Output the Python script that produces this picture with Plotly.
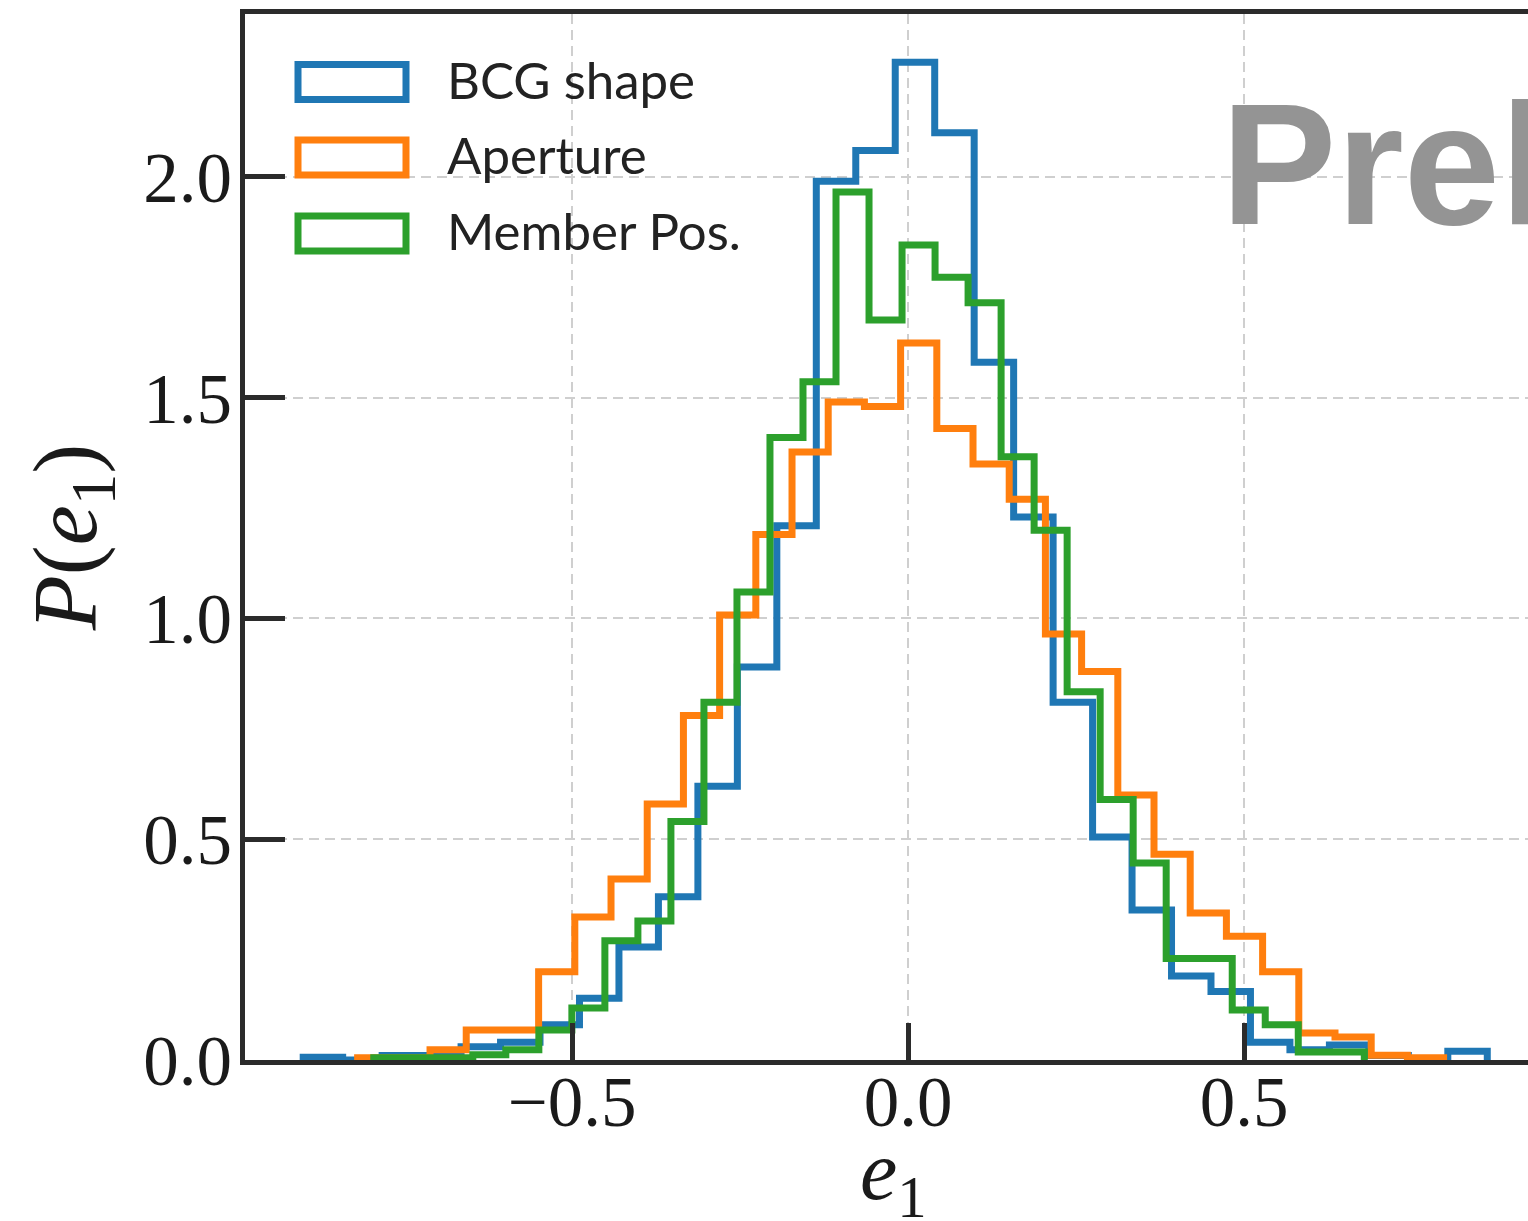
import numpy as np
import plotly.graph_objects as go

# ---- data ----
series_names = ["BCG shape", "Aperture", "Member Pos."]
series_colors = ["#1f77b4", "#ff7f0e", "#2ca02c"]

n_bins = 30
bcg_range = (-0.900, 0.862)
aperture_range = (-0.819, 0.797)
member_range = (-0.795, 0.679)

bcg_density = [0.006, 0.0, 0.010, 0.010, 0.030, 0.040, 0.080, 0.140, 0.256, 0.370,
               0.620, 0.890, 1.210, 1.990, 2.060, 2.260, 2.100, 1.580, 1.230, 0.810,
               0.505, 0.340, 0.190, 0.155, 0.040, 0.023, 0.034, 0.010, 0.0, 0.020]
aperture_density = [0.005, 0.005, 0.023, 0.068, 0.068, 0.200, 0.324, 0.410, 0.580, 0.780,
                    1.008, 1.190, 1.377, 1.490, 1.480, 1.624, 1.430, 1.350, 1.270, 0.965,
                    0.880, 0.600, 0.466, 0.333, 0.280, 0.200, 0.061, 0.052, 0.011, 0.005]
member_density = [0.005, 0.005, 0.005, 0.012, 0.023, 0.068, 0.118, 0.270, 0.315, 0.540,
                  0.810, 1.060, 1.410, 1.536, 1.966, 1.676, 1.846, 1.773, 1.715, 1.366,
                  1.200, 0.834, 0.590, 0.446, 0.230, 0.230, 0.113, 0.080, 0.018, 0.018]

x_ticks = [-0.5, 0.0, 0.5]
x_tick_labels = ["\u22120.5", "0.0", "0.5"]
y_ticks = [0.0, 0.5, 1.0, 1.5, 2.0]
y_tick_labels = ["0.0", "0.5", "1.0", "1.5", "2.0"]
x_title = "<i>e</i><sub>1</sub>"
y_title = "<i>P</i>(<i>e</i><sub>1</sub>)"
watermark = "Preliminary"

ranges = [bcg_range, aperture_range, member_range]
densities = [bcg_density, aperture_density, member_density]

W, H = 1528, 1221
ML, MR, MT, MB = 245, 0, 14, 161
PW, PH = W - ML - MR, H - MT - MB


def px_to_paper_x(px):
    return (px - ML) / PW


def px_to_paper_y(py):
    return (H - MB - py) / PH


fig = go.Figure()
for name, color, rng, dens in zip(series_names, series_colors, ranges, densities):
    edges = np.linspace(rng[0], rng[1], n_bins + 1)
    xs = [edges[0]] + list(edges[:-1]) + [edges[-1]]
    ys = [0.0] + list(dens) + [0.0]
    fig.add_trace(go.Scatter(
        x=xs, y=ys, mode="lines", name=name,
        line=dict(color=color, width=7, shape="hv"),
        showlegend=False, hoverinfo="skip",
    ))

axis_col = "#2b2b2b"
tick_font = dict(family="Liberation Serif", size=71, color="#1a1a1a")

fig.update_layout(
    width=W, height=H,
    margin=dict(l=ML, r=MR, t=MT, b=MB, pad=0),
    paper_bgcolor="white", plot_bgcolor="white",
    xaxis=dict(
        range=[-0.9866, 0.9226], tickmode="array", tickvals=x_ticks, ticktext=x_tick_labels,
        ticks="inside", ticklen=37, tickwidth=4.5, tickcolor=axis_col,
        showline=True, linecolor=axis_col, linewidth=4.5, mirror=True,
        showgrid=True, gridcolor="#cfcfcf", gridwidth=1.5, griddash="10px,6px",
        zeroline=False, tickfont=tick_font, ticklabelstandoff=-24, automargin=False,
    ),
    yaxis=dict(
        range=[0, 2.369], tickmode="array", tickvals=y_ticks, ticktext=y_tick_labels,
        ticks="inside", ticklen=40, tickwidth=4.5, tickcolor=axis_col,
        showline=True, linecolor=axis_col, linewidth=4.5, mirror=False,
        showgrid=True, gridcolor="#cfcfcf", gridwidth=1.5, griddash="10px,6px",
        zeroline=False, tickfont=tick_font, ticklabelstandoff=-6, automargin=False,
        title=dict(text=y_title,
                   font=dict(family="Liberation Serif", size=90, color="#1a1a1a"), standoff=18),
    ),
)

# x-axis title (placed as annotation below tick labels)
fig.add_annotation(
    text=x_title, xref="paper", yref="paper",
    x=px_to_paper_x(893), y=px_to_paper_y(1177), xanchor="center", yanchor="middle",
    showarrow=False, font=dict(family="Liberation Serif", size=84, color="#1a1a1a"),
)

# watermark
fig.add_annotation(
    text="<b>" + watermark + "</b>", xref="paper", yref="paper",
    x=px_to_paper_x(1219), y=px_to_paper_y(164), xanchor="left", yanchor="middle",
    showarrow=False, font=dict(family="Liberation Sans", size=173, color="#949494"),
)

# custom legend (outlined rectangles + labels)
legend_rows_px = [82, 157.5, 233.5]
for name, color, cy in zip(series_names, series_colors, legend_rows_px):
    fig.add_shape(
        type="rect", xref="paper", yref="paper",
        x0=px_to_paper_x(298), x1=px_to_paper_x(406),
        y0=px_to_paper_y(cy - 17.5), y1=px_to_paper_y(cy + 17.5),
        line=dict(color=color, width=7), fillcolor="rgba(0,0,0,0)",
    )
    fig.add_annotation(
        text=name, xref="paper", yref="paper",
        x=px_to_paper_x(445), y=px_to_paper_y(cy - 3), xanchor="left", yanchor="middle",
        showarrow=False, font=dict(family="Lato", size=51, color="#222222"),
    )

fig.write_html("out.html", config={"displayModeBar": False})
